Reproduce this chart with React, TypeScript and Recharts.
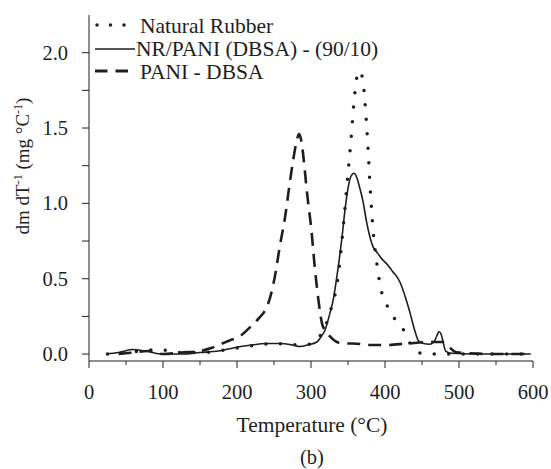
import React from "react";
import { LineChart, Line, XAxis, YAxis, Legend, Label } from "recharts";

// temperatures (°C) and derivative mass loss (mg °C^-1)
const nrTemp = [25, 45, 70, 95, 120, 150, 200, 250, 290, 305, 312, 319, 327, 335, 340, 345, 350, 354, 358, 362, 365, 368, 371, 374, 377, 380, 384, 389, 396, 403, 411, 418, 425, 434, 443, 452, 465, 475, 485, 500, 550, 597];
const nrValue = [0, 0.01, 0.02, 0.03, 0.01, 0.01, 0.04, 0.07, 0.06, 0.08, 0.12, 0.18, 0.3, 0.46, 0.66, 0.92, 1.2, 1.42, 1.67, 1.84, 1.88, 1.86, 1.78, 1.6, 1.37, 1.1, 0.82, 0.6, 0.4, 0.32, 0.25, 0.2, 0.16, 0.07, 0.02, 0.0, 0.0, 0.0, 0.0, 0.0, 0.0, 0.0];

const blendTemp = [23, 40, 58, 77, 99, 125, 150, 175, 190, 205, 220, 238, 258, 275, 285, 295, 308, 313, 319, 325, 330, 336, 342, 346, 350, 354, 358, 362, 366, 370, 375, 380, 384, 390, 396, 402, 410, 420, 428, 434, 440, 445, 452, 460, 466, 470, 473, 476, 479, 482, 490, 520, 560, 597];
const blendValue = [0, 0.01, 0.03, 0.02, 0.0, 0.0, 0.01, 0.02, 0.035, 0.05, 0.06, 0.07, 0.07, 0.06, 0.05, 0.06, 0.08, 0.11, 0.16, 0.26, 0.36, 0.55, 0.78, 0.96, 1.1, 1.18, 1.2, 1.17, 1.1, 1.02, 0.88, 0.77, 0.71, 0.67, 0.63, 0.6, 0.55, 0.48, 0.37, 0.27, 0.16, 0.09, 0.07, 0.065, 0.08, 0.12, 0.15, 0.13, 0.07, 0.02, 0.005, 0.0, 0.0, 0.0];

const paniTemp = [40, 60, 80, 100, 125, 150, 165, 180, 190, 200, 207, 218, 230, 238, 245, 251, 258, 265, 270, 276, 280, 284, 288, 291, 294, 297, 300, 305, 310, 315, 320, 325, 335, 345, 357, 380, 402, 430, 460, 478, 486, 493, 500, 550, 597];
const paniValue = [0.0, 0.01, 0.02, 0.0, 0.01, 0.02, 0.04, 0.07, 0.09, 0.11, 0.13, 0.18, 0.24, 0.29, 0.38, 0.51, 0.72, 0.91, 1.09, 1.29, 1.4, 1.46, 1.38, 1.25, 1.1, 0.97, 0.85, 0.58, 0.36, 0.2, 0.15, 0.12, 0.08, 0.07, 0.07, 0.06, 0.06, 0.07, 0.08, 0.08, 0.05, 0.02, 0.01, 0.0, 0.0];

const xTicks = [0, 50, 100, 150, 200, 250, 300, 350, 400, 450, 500, 550, 600];
const yTicks = [0, 0.25, 0.5, 0.75, 1.0, 1.25, 1.5, 1.75, 2.0];

const seriesNames = ["Natural Rubber", "NR/PANI (DBSA) - (90/10)", "PANI - DBSA"];

const toRows = (t: number[], v: number[]) => t.map((x, i) => ({ t: x, v: v[i] }));

const FONT = "'Liberation Serif', 'Times New Roman', serif";
const INK = "#1e1e1e";

const XTick = (props: any) => {
  const { x, y, payload } = props;
  const major = payload.value % 100 === 0;
  return (
    <g>
      <line x1={x} y1={y} x2={x} y2={y + (major ? 7 : 4)} stroke={INK} strokeWidth={1} />
      {major && (
        <text x={x} y={y + 38} textAnchor="middle" fontFamily={FONT} fontSize={20.5} fill={INK}>
          {payload.value}
        </text>
      )}
    </g>
  );
};

const YTick = (props: any) => {
  const { x, y, payload } = props;
  const major = Math.abs(payload.value * 2 - Math.round(payload.value * 2)) < 1e-6;
  return (
    <g>
      <line x1={x} y1={y} x2={x - 7} y2={y} stroke={INK} strokeWidth={1} />
      {major && (
        <text x={x - 21} y={y + 7} textAnchor="end" fontFamily={FONT} fontSize={20.5} fill={INK}>
          {payload.value.toFixed(1)}
        </text>
      )}
    </g>
  );
};

const LegendBox = () => (
  <svg width={420} height={90} style={{ overflow: "visible" }}>
    <g fontFamily={FONT} fontSize={21.5} fill={INK}>
      <line x1={97} y1={25} x2={130} y2={25} stroke={INK} strokeWidth={3.5} strokeLinecap="round" strokeDasharray="0 13.5" />
      <text x={140} y={32.5}>{seriesNames[0]}</text>
      <line x1={95} y1={49} x2={135} y2={49} stroke={INK} strokeWidth={1.5} />
      <text x={136} y={55.5}>{seriesNames[1]}</text>
      <line x1={95} y1={71} x2={128} y2={71} stroke={INK} strokeWidth={3} strokeDasharray="12.5 8" />
      <text x={140} y={78.5}>{seriesNames[2]}</text>
    </g>
  </svg>
);

export default function App() {
  return (
    <div style={{ position: "absolute", left: 0, top: 0, background: "#fff" }}>
      <LineChart width={551} height={469} margin={{ top: 15, right: 18, bottom: 0, left: 0 }}>
        <XAxis
          type="number"
          dataKey="t"
          domain={[0, 600]}
          ticks={xTicks}
          height={108}
          tickSize={0}
          tickMargin={0}
          tickLine={false}
          tick={<XTick />}
          interval={0}
          axisLine={{ stroke: INK, strokeWidth: 1 }}
        >
          <Label
            content={() => (
              <g fontFamily={FONT} fill={INK}>
                <text x={312} y={432} textAnchor="middle" fontSize={21.5}>Temperature (°C)</text>
                <text x={312} y={464} textAnchor="middle" fontSize={20.5}>(b)</text>
              </g>
            )}
          />
        </XAxis>
        <YAxis
          type="number"
          dataKey="v"
          domain={[-0.046, 2.25]}
          ticks={yTicks}
          width={89}
          tickSize={0}
          tickMargin={0}
          tickLine={false}
          tick={<YTick />}
          interval={0}
          axisLine={{ stroke: INK, strokeWidth: 1 }}
        >
          <Label
            content={() => (
              <text transform="translate(29,166) rotate(-90)" textAnchor="middle" fontFamily={FONT} fontSize={19} fill={INK}>
                dm dT<tspan fontSize={12} dy={-7}>-1</tspan>
                <tspan dy={7}> (mg °C</tspan>
                <tspan fontSize={12} dy={-7}>-1</tspan>
                <tspan dy={7}>)</tspan>
              </text>
            )}
          />
        </YAxis>
        <Legend
          layout="vertical"
          align="center"
          verticalAlign="middle"
          content={() => <LegendBox />}
          wrapperStyle={{ left: 0, top: 0, width: 420, height: 90 }}
        />
        <Line
          name={seriesNames[0]}
          data={toRows(nrTemp, nrValue)}
          dataKey="v"
          type="monotone"
          stroke={INK}
          strokeWidth={3.5}
          strokeLinecap="round"
          strokeDasharray="0 14.5"
          dot={false}
          isAnimationActive={false}
        />
        <Line
          name={seriesNames[1]}
          data={toRows(blendTemp, blendValue)}
          dataKey="v"
          type="monotone"
          stroke={INK}
          strokeWidth={1.6}
          dot={false}
          isAnimationActive={false}
        />
        <Line
          name={seriesNames[2]}
          data={toRows(paniTemp, paniValue)}
          dataKey="v"
          type="monotone"
          stroke={INK}
          strokeWidth={2.6}
          strokeDasharray="13 8"
          dot={false}
          isAnimationActive={false}
        />
      </LineChart>
    </div>
  );
}
